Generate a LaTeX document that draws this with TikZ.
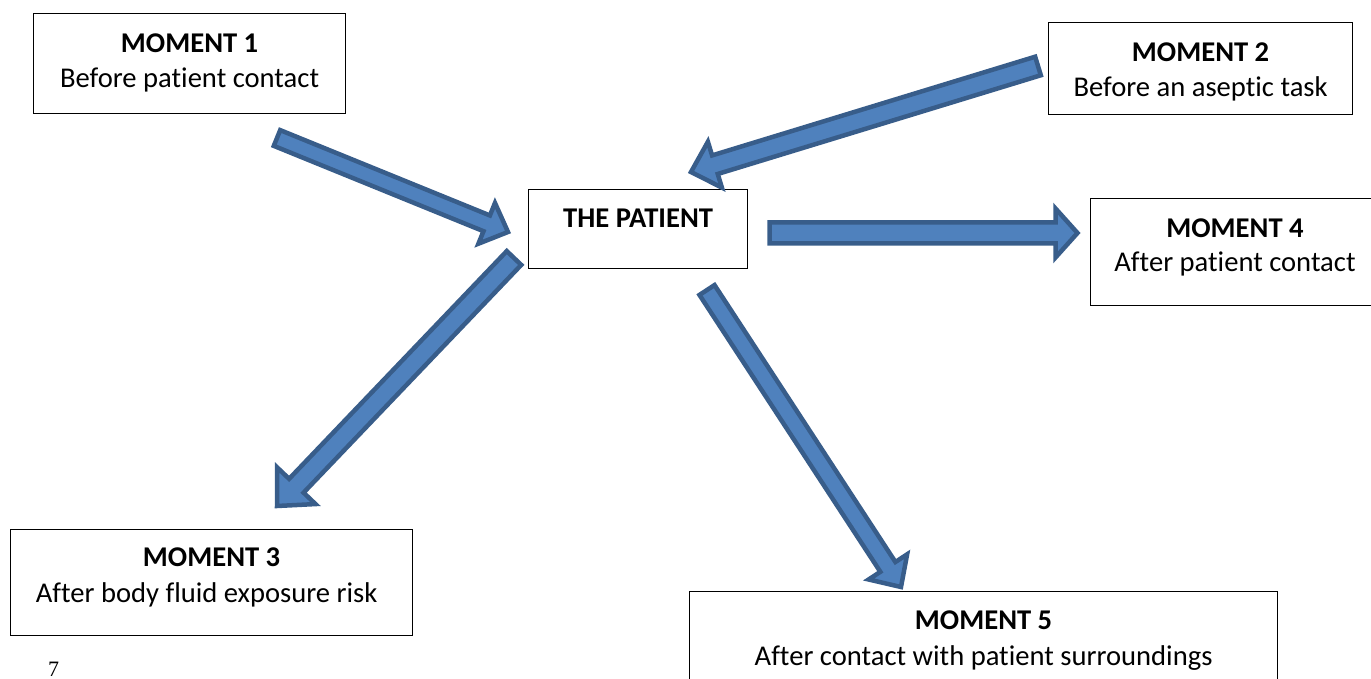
\documentclass[tikz,border=0pt]{standalone}
\usepackage{fontspec}
\setmainfont{Carlito}[Ligatures=NoCommon]
\newfontfamily\seriffam{Liberation Serif}
\usetikzlibrary{calc}
\definecolor{afill}{HTML}{4F81BD}
\definecolor{aline}{HTML}{385D8A}
% block arrow: tail, tip, shaft half width, head half width, head length
\newcommand{\blockarr}[5]{%
  \coordinate (hb) at ($(#2)!#5pt!(#1)$);
  \draw[barrow] ($(#1)!#3pt!90:(#2)$) -- ($(hb)!#3pt!90:(#2)$) -- ($(hb)!#4pt!90:(#2)$) -- (#2)
     -- ($(hb)!#4pt!-90:(#2)$) -- ($(hb)!#3pt!-90:(#2)$) -- ($(#1)!#3pt!-90:(#2)$) -- cycle;}
\tikzset{
  box/.style={draw=black, line width=1.2pt, anchor=north west, inner sep=0pt},
  hd/.style={font=\fontsize{28.6}{34}\selectfont\bfseries, anchor=base, inner sep=0pt},
  tx/.style={font=\fontsize{28.6}{34}\selectfont, anchor=base, inner sep=0pt},
  barrow/.style={draw=aline, fill=afill, line width=4.5pt, line join=miter}
}
\begin{document}
\begin{tikzpicture}[x=1pt,y=-1pt]
\useasboundingbox (0,0) rectangle (1371,679);
\clip (0,0) rectangle (1371,679);
% boxes
\node[box, minimum width=312pt, minimum height=100pt] (m1) at (33,13) {};
\node[box, minimum width=304pt, minimum height=92pt] (m2) at (1048,22) {};
\node[box, minimum width=219pt, minimum height=79pt] (pt) at (528,189) {};
\node[box, minimum width=290pt, minimum height=107pt] (m4) at (1090,198) {};
\node[box, minimum width=402pt, minimum height=106pt] (m3) at (10,529) {};
\node[box, minimum width=588pt, minimum height=120pt] (m5) at (689,591) {};
% texts
\node[hd] (m1h) at ($(m1.north)+(0,40)$) {MOMENT 1};
\node[tx] (m1s) at ($(m1.north)+(0,75)$) {Before patient contact};
\node[hd] (m2h) at ($(m2.north)+(0,40)$) {MOMENT 2};
\node[tx] (m2s) at ($(m2.north)+(0,75)$) {Before an aseptic task};
\node[hd] (pth) at ($(pt.north)+(0,39)$) {THE PATIENT};
\node[hd] (m4h) at (1235,237) {MOMENT 4};
\node[tx] (m4s) at (1235,271) {After patient contact};
\node[hd] (m3h) at ($(m3.north)+(0,37)$) {MOMENT 3};
\node[tx] (m3s) at ($(m3.north)+(-5,73)$) {After body fluid exposure risk};
\node[hd] (m5h) at ($(m5.north)+(0,38)$) {MOMENT 5};
\node[tx] (m5s) at ($(m5.north)+(0,74)$) {After contact with patient surroundings};
\node[font=\seriffam\fontsize{22}{26}\selectfont, anchor=base west, inner sep=0pt] (pg) at (48,676) {7};
% arrow end points
\coordinate (a1t) at (277,138); \coordinate (a1h) at (508,232);
\coordinate (a2t) at (1038,66); \coordinate (a2h) at (691,172);
\coordinate (a3t) at (769.5,233); \coordinate (a3h) at (1077.5,233);
\coordinate (a4t) at (514,258); \coordinate (a4h) at (277,506);
\coordinate (a5t) at (707,290); \coordinate (a5h) at (901,587);
\blockarr{a1t}{a1h}{8.5}{22}{23}
\blockarr{a2t}{a2h}{9.7}{24}{25}
\blockarr{a3t}{a3h}{10.5}{24.5}{22}
\blockarr{a4t}{a4h}{10}{26.5}{28}
\blockarr{a5t}{a5h}{9}{23}{24}
\end{tikzpicture}
\end{document}
